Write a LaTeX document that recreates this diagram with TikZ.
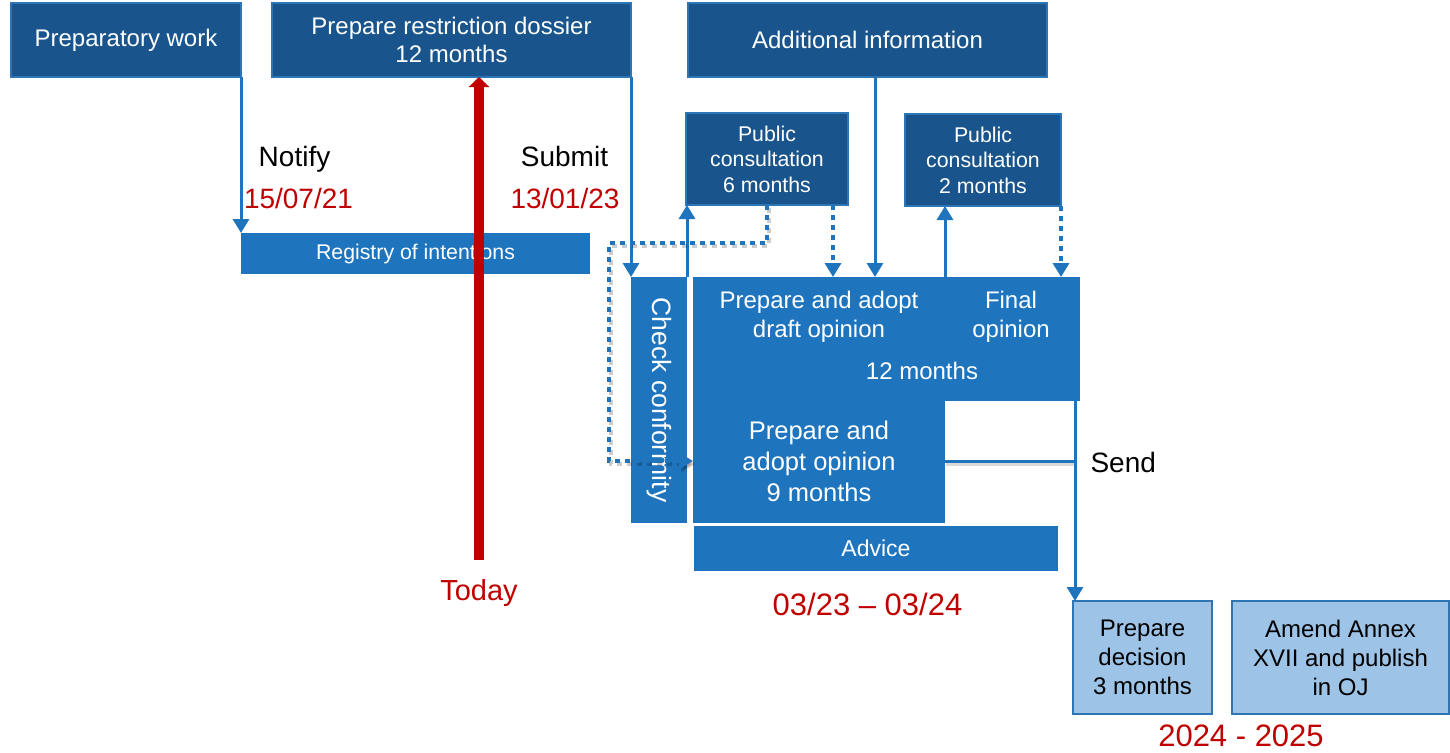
\documentclass[tikz,border=0pt]{standalone}
\usepackage{fontspec}
\setmainfont{Liberation Sans}
\usetikzlibrary{arrows.meta}

\definecolor{darkblue}{HTML}{19558C}
\definecolor{midblue}{HTML}{1F74BE}
\definecolor{lightblue}{HTML}{9DC3E6}
\definecolor{edgeblue}{HTML}{2E75B6}
\definecolor{datered}{HTML}{C00000}

\tikzset{
	darkbox/.style={draw=edgeblue, line width=1.5pt, fill=darkblue, text=white, align=center,
		anchor=north west, inner sep=0pt, outer sep=0pt, font=\fontsize{24}{28}\selectfont},
	midbox/.style={fill=midblue, text=white, align=center,
		anchor=north west, inner sep=0pt, outer sep=0pt, font=\fontsize{24}{30}\selectfont},
	lightbox/.style={draw=edgeblue, line width=2pt, fill=lightblue, text=black, align=center,
		anchor=north west, inner sep=0pt, outer sep=0pt, font=\fontsize{24}{29}\selectfont},
	boxtext/.style={text=white, align=center, font=\fontsize{24}{29}\selectfont},
	tagtext/.style={text=black, font=\fontsize{28}{30}\selectfont},
	datetext/.style={text=datered, font=\fontsize{28}{30}\selectfont},
	flow/.style={draw=midblue, line width=3pt, -{Triangle[length=14pt, width=16pt]}},
	dotflow/.style={flow, dash pattern=on 5pt off 5pt, line width=4pt},
	ghost/.style={draw=black, opacity=0.2},
	redflow/.style={draw=datered, line width=10pt, -{Triangle[length=10pt, width=20pt]}},
}

\begin{document}
\begin{tikzpicture}[x=1pt, y=-1pt]
		\useasboundingbox (0,0) rectangle (1450,752) ;

		\node[darkbox, minimum width=230, minimum height=74] (prep) at (11,3) {Preparatory work} ;
		\node[darkbox, minimum width=359, minimum height=74] (dossier) at (272,3) {Prepare restriction dossier\\12 months} ;
		\node[darkbox, minimum width=359, minimum height=74] (addinfo) at (688,3) {Additional information} ;
		\node[darkbox, minimum width=162, minimum height=92, font=\fontsize{21.3}{25.5}\selectfont] (pcsix) at (686,113) {Public\\consultation\\6 months} ;
		\node[darkbox, minimum width=156, minimum height=92, font=\fontsize{21.3}{25.5}\selectfont] (pctwo) at (905,114) {Public\\consultation\\2 months} ;

		\node[midbox, minimum width=349, minimum height=41, font=\fontsize{21.3}{24}\selectfont] (registry) at (241,233) {Registry of intentions} ;
		\node[midbox, minimum width=56, minimum height=246, font=\fontsize{26.5}{30}\selectfont] (check) at (631,277) {\rotatebox{-90}{Check conformity}} ;
		\node[midbox, minimum width=387, minimum height=124] (draft) at (693,277) {} ;
		\node[midbox, minimum width=252, minimum height=124, font=\fontsize{25.5}{31}\selectfont] (opin) at (693,399) {Prepare and\\adopt opinion\\9 months} ;
		\node[midbox, minimum width=364, minimum height=45, font=\fontsize{23}{28}\selectfont] (advice) at (694,526) {Advice} ;

		\node[boxtext] (drafttext) at (819,316.5) {Prepare and adopt\\draft opinion} ;
		\node[boxtext] (finaltext) at (1011,316.5) {Final\\opinion} ;
		\node[boxtext] (twelve) at (922,371) {12 months} ;

		\node[lightbox, minimum width=139, minimum height=113] (decision) at (1073,601) {Prepare\\decision\\3 months} ;
		\node[lightbox, minimum width=217, minimum height=113] (annex) at (1232,601) {Amend Annex\\XVII and publish\\in OJ} ;

		\node[tagtext, anchor=base] (notify) at (294.5,166) {Notify} ;
		\node[datetext, anchor=base] (notifydate) at (298.5,208) {15/07/21} ;
		\node[tagtext, anchor=base] (submit) at (564.5,166) {Submit} ;
		\node[datetext, anchor=base] (submitdate) at (565,208) {13/01/23} ;
		\node[datetext, anchor=base, font=\fontsize{29}{30}\selectfont] (today) at (479,600) {Today} ;
		\node[datetext, anchor=base, font=\fontsize{31}{32}\selectfont] (opinperiod) at (867.5,615) {03/23 -- 03/24} ;
		\node[datetext, anchor=base, font=\fontsize{31}{32}\selectfont] (decperiod) at (1241,746) {2024 - 2025} ;
		\node[tagtext, anchor=base west] (send) at (1087,472) {Send} ;

		\coordinate (todaytail) at (479,560) ;
		\coordinate (dotcorner) at (609,243) ;
		\coordinate (sendtop) at (1075,400) ;

		\draw[flow] (prep.south east) -- (registry.north west) ;
		\draw[flow] (dossier.south east) -- (check.north west) ;
		\draw[flow] (check.north east) -- (check.north east |- pcsix.south) ;
		\draw[flow] ([xshift=7.5]addinfo.south) -- ([xshift=7.5]addinfo.south |- draft.north) ;
		\draw[flow] (draft.north -| opin.east) -- (pctwo.south -| opin.east) ;

		\draw[dotflow, ghost, transform canvas={shift={(2,3)}}] (pcsix.south) |- (dotcorner) |- (opin.west) ;
		\draw[dotflow] (pcsix.south) |- (dotcorner) |- (opin.west) ;
		\draw[dotflow] ([xshift=-15]pcsix.south east) -- ([xshift=-15]pcsix.south east |- draft.north) ;
		\draw[dotflow] (pctwo.south east) -- (pctwo.south east |- draft.north) ;

		\draw[draw=midblue, line width=3pt, ghost, opacity=0.15, transform canvas={shift={(1,3)}}] (opin.east) -- (opin.east -| sendtop) ;
		\draw[draw=midblue, line width=3pt] (opin.east) -- (opin.east -| sendtop) ;
		\draw[flow] (sendtop) -- (sendtop |- decision.north) ;

		\draw[redflow] (todaytail) -- (todaytail |- dossier.south) ;
\end{tikzpicture}
\end{document}
